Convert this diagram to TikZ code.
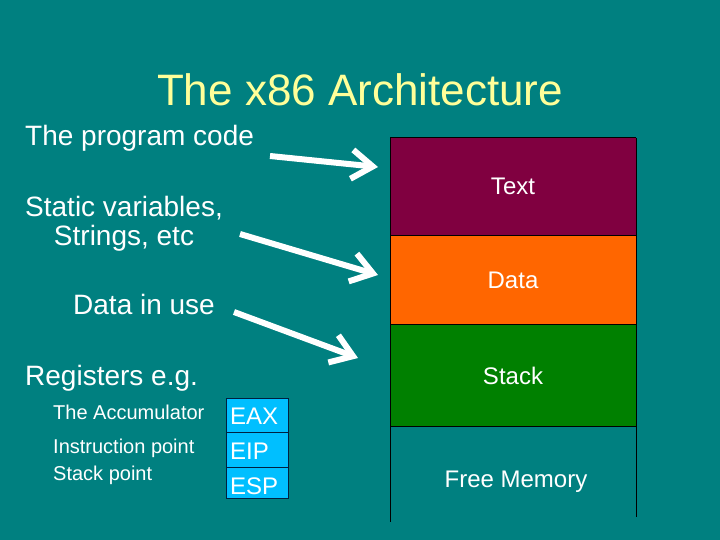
\documentclass[tikz,border=0pt]{standalone}
\usepackage{fontspec}
\setmainfont{Liberation Sans}
\usetikzlibrary{arrows.meta}
\definecolor{bg}{RGB}{0,128,128}
\definecolor{titlecol}{RGB}{255,255,153}
\definecolor{textseg}{RGB}{128,0,64}
\definecolor{dataseg}{RGB}{255,102,0}
\definecolor{stackseg}{RGB}{0,128,0}
\definecolor{regcol}{RGB}{0,191,255}
\definecolor{regline}{RGB}{0,32,64}
\begin{document}
\begin{tikzpicture}[x=1pt,y=-1pt,
  lbl/.style={text=white,inner sep=0pt,font=\fontsize{28}{32}\selectfont},
  small/.style={text=white,inner sep=0pt,font=\fontsize{20}{24}\selectfont},
  seg/.style={draw=black,line width=1pt},
  reg/.style={draw=regline,fill=regcol,line width=1pt},
  reglbl/.style={text=white,inner sep=0pt,anchor=base west,font=\fontsize{24}{28}\selectfont},
  seglbl/.style={text=white,inner sep=0pt,anchor=base,font=\fontsize{24}{28}\selectfont},
  bigarrow/.style={draw=white,line width=6pt,-{Straight Barb[length=21pt,width=29pt,line width=6pt]}}]
\fill[bg] (0,0) rectangle (720,540);
\useasboundingbox (0,0) rectangle (720,540);
% title
\node[text=titlecol,inner sep=0pt,anchor=base,font=\fontsize{44}{50}\selectfont] (title) at (360,106) {The x86 Architecture};
% left labels
\node[lbl,anchor=base west] (prog) at (25,146) {The program code};
\node[lbl,anchor=base west] (static1) at (25,217) {Static variables,};
\node[lbl,anchor=base] (static2) at (static1.base |- 0,245) {Strings, etc};
\node[lbl,anchor=base west] (inuse) at (73,314) {Data in use};
\node[lbl,anchor=base west] (regs) at (25,385) {Registers e.g.};
\node[small,anchor=base west] (acc) at (53,419) {The Accumulator};
\node[small,anchor=base west] (ip) at (53,453) {Instruction point};
\node[small,anchor=base west] (sp) at (53,480) {Stack point};
% memory segments
\fill[textseg] (390,138) rectangle (636,235);
\fill[dataseg] (390,235) rectangle (636,324);
\fill[stackseg] (390,324) rectangle (636,426);
\draw[seg] (390,138) -- (636,138);
\draw[seg] (390,235) -- (636,235);
\draw[seg] (390,324) -- (636,324);
\draw[seg] (390,426) -- (636,426);
\draw[seg] (390,138) -- (390,522);
\draw[seg] (636,138) -- (636,517);
\node[seglbl] (ttext) at (513,195) {Text};
\node[seglbl] (tdata) at (513,288) {Data};
\node[seglbl] (tstack) at (513,384) {Stack};
\node[seglbl] (tfree) at (516,487) {Free Memory};
% registers
\draw[reg] (226,398) rectangle (288,432);
\draw[reg] (226,432) rectangle (288,467);
\draw[reg] (226,467) rectangle (288,498);
\node[reglbl] (eax) at (230,424) {EAX};
\node[reglbl] (eip) at (230,459) {EIP};
\node[reglbl] (esp) at (230,494) {ESP};
% arrows
\coordinate (a1s) at (270,156);
\coordinate (a1e) at (378,167);
\coordinate (a2s) at (240,234);
\coordinate (a2e) at (378,275);
\coordinate (a3s) at (234,312);
\coordinate (a3e) at (358,358);
\draw[bigarrow] (a1s) -- (a1e);
\draw[bigarrow] (a2s) -- (a2e);
\draw[bigarrow] (a3s) -- (a3e);
\end{tikzpicture}
\end{document}
